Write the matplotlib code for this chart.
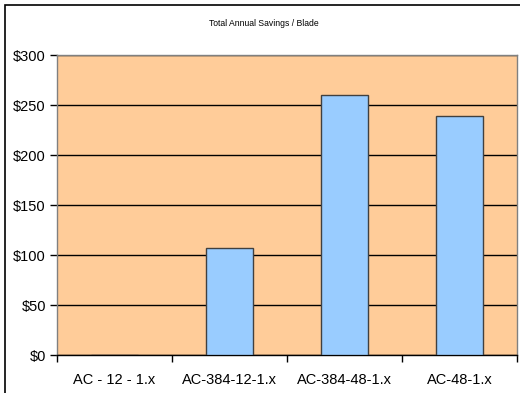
import matplotlib
matplotlib.use("Agg")
import matplotlib.pyplot as plt
from matplotlib.patches import Rectangle
from matplotlib.ticker import FuncFormatter

categories = ["AC - 12 - 1.x", "AC-384-12-1.x", "AC-384-48-1.x", "AC-48-1.x"]
savings = [0, 107, 260, 239]
y_ticks = [0, 50, 100, 150, 200, 250, 300]

plt.rcParams["font.family"] = ["Liberation Sans", "DejaVu Sans"]

fig = plt.figure(figsize=(5.2, 3.93), dpi=100)
fig.patch.set_facecolor("white")

# outer chart frame
fig.patches.append(Rectangle((4.5 / 520, -0.2), 1.2, 1.2 - 4.5 / 393,
                             transform=fig.transFigure, fill=False,
                             edgecolor="black", linewidth=1.2, zorder=0))

ax = fig.add_axes([57 / 520, 38 / 393, 460 / 520, 300 / 393])
ax.set_facecolor("#FFCC99")

x = list(range(len(categories)))
ax.bar(x, savings, width=0.41, color="#99CCFF", edgecolor="#404040",
       linewidth=1.0, zorder=3)

ax.set_xlim(-0.5, len(categories) - 0.5)
ax.set_ylim(0, 300)
ax.set_yticks(y_ticks)
ax.yaxis.set_major_formatter(FuncFormatter(lambda v, p: f"${v:.0f}"))
ax.yaxis.grid(True, color="black", linewidth=1.0, zorder=1)
ax.set_axisbelow(True)

ax.set_xticks(x)
ax.set_xticklabels(categories)
ax.set_xticks([i - 0.5 for i in range(len(categories) + 1)], minor=True)
ax.tick_params(axis="x", which="major", length=0, pad=13, labelsize=10.5)
ax.tick_params(axis="x", which="minor", length=5, width=1, color="black")
ax.tick_params(axis="y", length=5, width=1, color="black", labelsize=10.5, pad=3)

for side in ["top", "right", "left"]:
    ax.spines[side].set_color("#808080")
    ax.spines[side].set_linewidth(1.0)
ax.spines["bottom"].set_color("black")
ax.spines["bottom"].set_linewidth(1.0)

fig.text(264 / 520, 1 - 23 / 393, "Total Annual Savings / Blade",
         ha="center", va="center", fontsize=6.2)

fig.savefig("out.png", dpi=100)
